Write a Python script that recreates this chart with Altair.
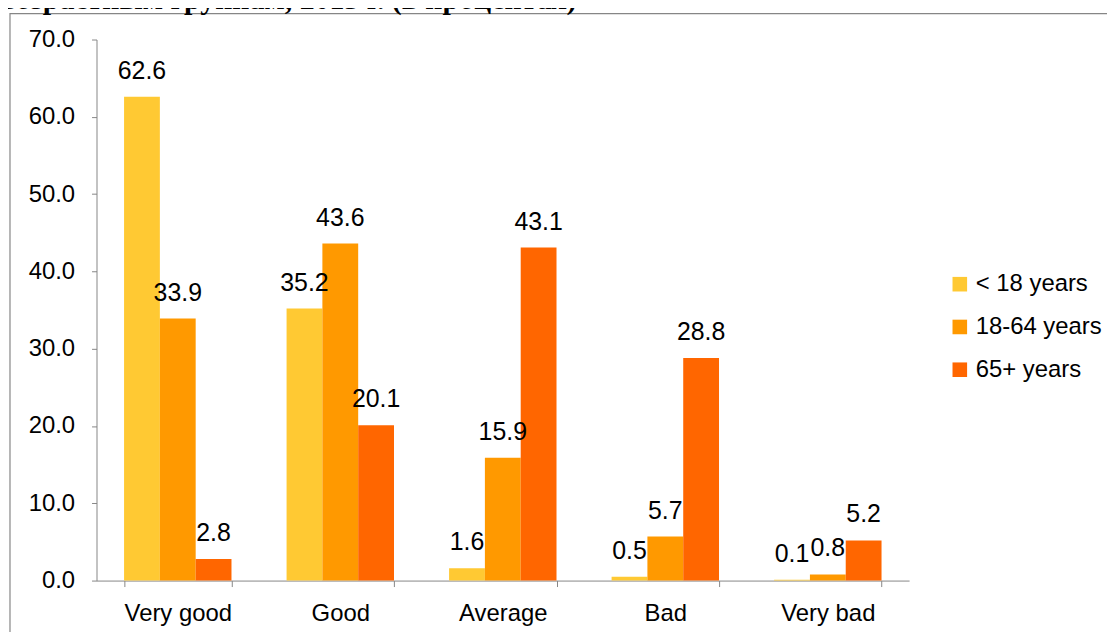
import altair as alt
import pandas as pd

categories = ["Very good", "Good", "Average", "Bad", "Very bad"]
groups = ["< 18 years", "18-64 years", "65+ years"]
under18 = [62.6, 35.2, 1.6, 0.5, 0.1]
age18_64 = [33.9, 43.6, 15.9, 5.7, 0.8]
age65 = [2.8, 20.1, 43.1, 28.8, 5.2]
colors = ["#FFC933", "#FF9900", "#FF6600"]
title_text = "возрастным группам, 2013 г. (в процентах)"

rows = []
for i, c in enumerate(categories):
    for g, vals in zip(groups, [under18, age18_64, age65]):
        rows.append({"category": c, "group": g, "value": vals[i]})
df = pd.DataFrame(rows)

FONT = "Liberation Sans"

x = alt.X("category:N", sort=categories, title=None,
          scale=alt.Scale(paddingInner=0.339, paddingOuter=0.1695),
          axis=alt.Axis(labelAngle=0, labelFontSize=24, labelColor="black", labelFont=FONT,
                        tickBand="extent", tickSize=6, labelPadding=15,
                        domainColor="#868686", tickColor="#868686"))
xo = alt.XOffset("group:N", sort=groups)
y = alt.Y("value:Q", title=None,
          scale=alt.Scale(domain=[0, 70], nice=False),
          axis=alt.Axis(values=[0, 10, 20, 30, 40, 50, 60, 70], format=".1f", grid=False,
                        labelFontSize=24, labelColor="black", labelFont=FONT,
                        tickSize=5, labelPadding=17,
                        domainColor="#868686", tickColor="#868686"))
color = alt.Color("group:N", sort=groups, title=None,
                  scale=alt.Scale(domain=groups, range=colors),
                  legend=alt.Legend(orient="none", legendX=856, legendY=234,
                                    symbolType="square", symbolSize=215, symbolStrokeWidth=0,
                                    labelFontSize=24, labelFont=FONT, labelColor="black",
                                    rowPadding=19, labelOffset=4))

bars = alt.Chart(df).mark_bar().encode(x=x, xOffset=xo, y=y, color=color)
labels = alt.Chart(df).mark_text(baseline="bottom", dy=-13, fontSize=25, font=FONT, color="black").encode(
    x=x, xOffset=xo, y=y, text=alt.Text("value:Q", format=".1f"))

blank = alt.Data(values=[{}])
frame = alt.Chart(blank).mark_rect(fillOpacity=0, stroke="#868686", strokeWidth=1.2).encode(
    x=alt.value(-87), x2=alt.value(1300), y=alt.value(-26), y2=alt.value(800))
title = alt.Chart(blank).mark_text(text=title_text, align="left", baseline="alphabetic",
                                   fontSize=30, fontWeight="bold", font="Liberation Serif",
                                   color="black").encode(x=alt.value(-97), y=alt.value(-30.5))

chart = alt.layer(frame, title, bars, labels).properties(
    width=817, height=544,
    padding={"left": 89, "top": 30, "right": 199, "bottom": 50},
    autosize=alt.AutoSizeParams(type="none"),
).configure_view(stroke=None)

chart.save("out.html", embed_options={"renderer": "svg", "actions": False})
